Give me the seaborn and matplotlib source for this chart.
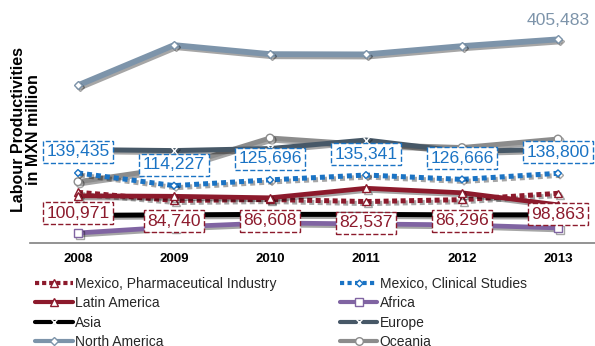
import matplotlib
matplotlib.use("Agg")
import matplotlib.pyplot as plt
import matplotlib.patheffects as pe
from matplotlib.lines import Line2D
import seaborn as sns
import pandas as pd

sns.set_theme(style="white")
plt.rcParams['font.family'] = ['Liberation Sans', 'DejaVu Sans']

years = ['2008', '2009', '2010', '2011', '2012', '2013']
pharma = [100971, 84740, 86608, 82537, 86296, 98863]
clinical = [139435, 114227, 125696, 135341, 126666, 138800]
latam = [94000, 93000, 90000, 109000, 100000, 76000]
africa = [20000, 32000, 40000, 38000, 36000, 30000]
asia = [55000, 56000, 57000, 57000, 56000, 56000]
europe = [186000, 184000, 188000, 205000, 182000, 187000]
north_america = [314000, 394000, 376000, 375500, 392000, 405483]
oceania = [122000, 150000, 209000, 196000, 190000, 207000]

series_names = ['Mexico, Pharmaceutical Industry', 'Mexico, Clinical Studies',
                'Latin America', 'Africa', 'Asia', 'Europe',
                'North America', 'Oceania']
series_values = [pharma, clinical, latam, africa, asia, europe, north_america, oceania]

RED = '#8C1A2C'
BLUE = '#1A73C4'
PURPLE = '#8064A2'
NAVY = '#475867'
NA_COL = '#7D94AA'
GREY = '#8C8C8C'

styles = {
    'North America': dict(color=NA_COL, lw=4.2, marker='D', ms=4, dashes=None, z=2),
    'Oceania': dict(color=GREY, lw=3.6, marker='o', ms=5.5, dashes=None, z=2.1),
    'Europe': dict(color=NAVY, lw=3.6, marker='x', ms=5, dashes=None, z=2.2),
    'Asia': dict(color='black', lw=3.6, marker='x', ms=5, dashes=None, z=2.3),
    'Africa': dict(color=PURPLE, lw=3.4, marker='s', ms=6, dashes=None, z=2.4),
    'Mexico, Clinical Studies': dict(color=BLUE, lw=3.6, marker='D', ms=3.5, dashes=(1, 0.8), z=2.5),
    'Mexico, Pharmaceutical Industry': dict(color=RED, lw=3.6, marker='^', ms=5.5, dashes=(1, 0.7), z=2.6),
    'Latin America': dict(color=RED, lw=3.4, marker='^', ms=5.5, dashes=None, z=2.7),
}

rows = []
for name, vals in zip(series_names, series_values):
    for i, (y, v) in enumerate(zip(years, vals)):
        rows.append(dict(series=name, pos=i, year=y, value=v))
df = pd.DataFrame(rows)

fig = plt.figure(figsize=(5.95, 3.46), dpi=100)
ax = fig.add_axes([30 / 595, 103 / 346, 576 / 595, 226 / 346])

shadow = [pe.SimpleLineShadow(offset=(1.5, -1.5), shadow_color='black', alpha=0.35), pe.Normal()]

draw_order = ['North America', 'Oceania', 'Europe', 'Asia', 'Africa',
              'Mexico, Clinical Studies', 'Mexico, Pharmaceutical Industry', 'Latin America']
for name in draw_order:
    st = styles[name]
    sub = df[df.series == name]
    kw = dict(data=sub, x='pos', y='value', ax=ax, color=st['color'], linewidth=st['lw'],
              marker=st['marker'], markersize=st['ms'], markerfacecolor='white',
              markeredgecolor=st['color'] if st['marker'] != 'x' else 'white',
              markeredgewidth=1.0, legend=False, zorder=st['z'], estimator=None, sort=False)
    sns.lineplot(**kw)
    line = ax.lines[-1]
    if st['dashes'] is not None:
        line.set_dashes(st['dashes'])
        line.set_dash_capstyle('butt')
    line.set_path_effects(shadow)

ax.set_xlim(-0.5, 5.5)
ax.set_ylim(0, 450000)
ax.set_xticks(range(len(years)))
ax.set_xticklabels(years, fontsize=9.5, fontweight='bold', color='black')
ax.set_yticks([])
ax.set_xlabel('')
ax.set_ylabel('')
for s in ['top', 'right', 'left']:
    ax.spines[s].set_visible(False)
ax.spines['bottom'].set_color('#808080')
ax.spines['bottom'].set_linewidth(1.2)
ax.tick_params(axis='x', length=0, pad=7)

fig.text(26 / 595, 1 - 130 / 346, 'Labour Productivities\nin MXN million', rotation=90,
         ha='center', va='center', fontsize=11.5, fontweight='bold', color='black',
         linespacing=1.05)

for i, v in enumerate(clinical):
    ax.annotate(f'{v:,}', (i, v), xytext=(0, 21), textcoords='offset pixels',
                ha='center', va='center', fontsize=12.6, color=BLUE, zorder=10,
                bbox=dict(boxstyle='square,pad=0.2', fc='white', ec=BLUE, ls='--', lw=1.0))
for i, v in enumerate(pharma):
    ax.annotate(f'{v:,}', (i, v), xytext=(0, -21), textcoords='offset pixels',
                ha='center', va='center', fontsize=12.6, color=RED, zorder=10,
                bbox=dict(boxstyle='square,pad=0.2', fc='white', ec=RED, ls='--', lw=1.0))
ax.annotate(f'{north_america[-1]:,}', (5, north_america[-1]), xytext=(0, 19),
            textcoords='offset pixels', ha='center', va='center', fontsize=12.6, color=NA_COL)

legend_order = ['Mexico, Pharmaceutical Industry', 'Latin America', 'Asia', 'North America',
                'Mexico, Clinical Studies', 'Africa', 'Europe', 'Oceania']
handles = []
for name in legend_order:
    st = styles[name]
    h = Line2D([], [], color=st['color'], lw=3.0, marker=st['marker'], markersize=st['ms'],
               markerfacecolor='white',
               markeredgecolor=st['color'] if st['marker'] != 'x' else 'white',
               markeredgewidth=1.0)
    if st['dashes'] is not None:
        h.set_dashes(st['dashes'])
    handles.append(h)
fig.legend(handles, legend_order, ncol=2, loc='upper left', bbox_to_anchor=(35 / 595, 1 - 277 / 346),
           frameon=False, borderpad=0, borderaxespad=0, fontsize=10, handlelength=2.7,
           handletextpad=0.15, labelspacing=0.38, columnspacing=4.6, numpoints=1)

fig.savefig('out.png', dpi=100)
